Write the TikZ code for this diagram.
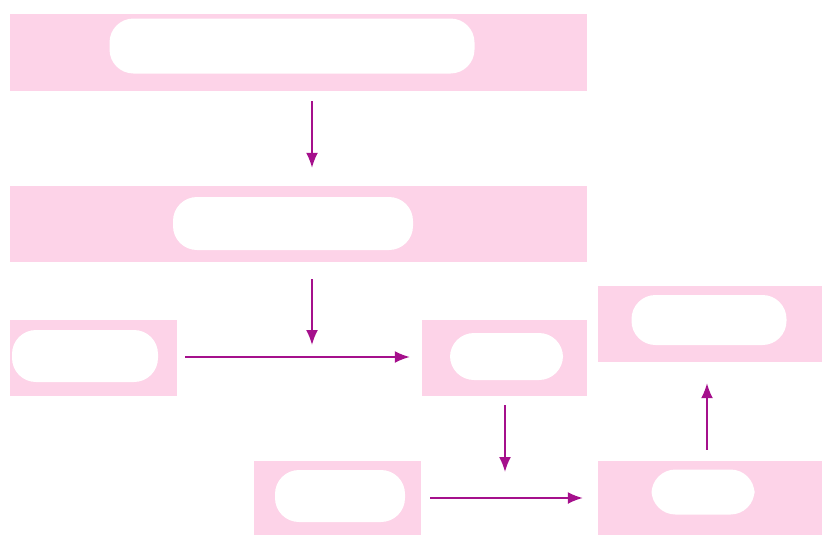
\documentclass[tikz,border=0pt]{standalone}
\usepackage{xcolor}
\usepackage{tikz}
\usetikzlibrary{arrows.meta,calc}

\definecolor{stagepink}{HTML}{FDD3E8}
\definecolor{arrmag}{HTML}{A5108C}

\begin{document}
\begin{tikzpicture}[
  x=1pt, y=-1pt,
  stage/.style={fill=stagepink, draw=none, inner sep=0pt, anchor=center},
  blob/.style={fill=white, draw=none, rounded corners=24pt, inner sep=0pt},
  arr/.style={-{Latex[length=15pt,width=12pt]}, line width=1.8pt, draw=arrmag}
]
\useasboundingbox (0,0) rectangle (823,536);
% stages
\node[stage, minimum width=577pt, minimum height=77pt] (a) at (298.5,52.5) {};
\node[stage, minimum width=577pt, minimum height=76pt] (b) at (298.5,224) {};
\node[stage, minimum width=167pt, minimum height=76pt] (c) at (93.5,358) {};
\node[stage, minimum width=165pt, minimum height=76pt] (d) at (504.5,358) {};
\node[stage, minimum width=167pt, minimum height=74pt] (e) at (337.5,498) {};
\node[stage, minimum width=224pt, minimum height=74pt] (f) at (710,498) {};
\node[stage, minimum width=224pt, minimum height=76pt] (g) at (710,324) {};
% hidden labels
\node[blob, minimum width=365pt, minimum height=55pt] (a-txt) at (292,46) {};
\node[blob, minimum width=240pt, minimum height=53pt] (b-txt) at (293,223.5) {};
\node[blob, minimum width=146pt, minimum height=52pt] (c-txt) at (85,356) {};
\node[blob, minimum width=113pt, minimum height=47pt] (d-txt) at (506.5,356.5) {};
\node[blob, minimum width=130pt, minimum height=52pt] (e-txt) at (340,496) {};
\node[blob, minimum width=103pt, minimum height=45pt] (f-txt) at (703,492) {};
\node[blob, minimum width=155pt, minimum height=50pt] (g-txt) at (709,320) {};
% free ends
\coordinate (join) at (312,345);
\coordinate (drop) at (505,472);
\coordinate (d-out) at (505,396);
% connectors
\draw[arr, shorten <=10pt, shorten >=18pt] ([xshift=13.5pt]a.south) -- ([xshift=13.5pt]b.north);
\draw[arr, shorten <=17pt] ([xshift=13.5pt]b.south) -- (join);
\draw[arr, shorten <=8pt, shorten >=12pt] ([yshift=1pt]c.east) -- ([yshift=1pt]d.west);
\draw[arr, shorten <=9pt] (d-out) -- (drop);
\draw[arr, shorten <=9pt, shorten >=15pt] (e.east) -- (f.west);
\draw[arr, shorten <=11pt, shorten >=21pt] ([xshift=-3pt]f.north) -- ([xshift=-3pt]g.south);
\end{tikzpicture}
\end{document}
